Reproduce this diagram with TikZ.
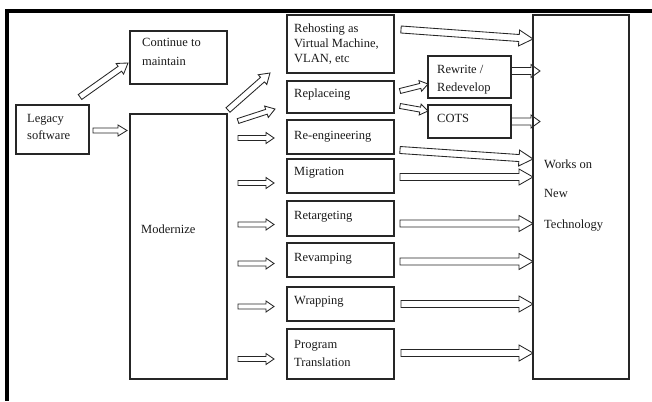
\documentclass[tikz,border=0pt]{standalone}
\usepackage{fontspec}
\setmainfont{Liberation Serif}
\usetikzlibrary{calc}
\pgfdeclarelayer{back}
\pgfdeclarelayer{bg}
\pgfsetlayers{back,bg,main}
\newcommand\lns[1]{\begin{tabular}[t]{@{}l@{}}#1\end{tabular}}
% block arrow: start, end, shaft half width, head half width, head length
\newcommand\blk[5]{%
  \coordinate (bs) at (#1);
  \coordinate (be) at (#2);
  \coordinate (hb) at ($(be)!#5pt!(bs)$);
  \draw[barrow] ($(bs)!#3pt!90:(be)$) -- ($(hb)!#3pt!90:(be)$) -- ($(hb)!#4pt!90:(be)$)
     -- (be) -- ($(hb)!#4pt!-90:(be)$) -- ($(hb)!#3pt!-90:(be)$) -- ($(bs)!#3pt!-90:(be)$) -- cycle;}
\begin{document}
\begin{tikzpicture}[x=1pt,y=-1pt,
  box/.style={draw=black!85, line width=1.1pt, inner sep=0pt, outer sep=0pt, anchor=north west},
  txt/.style={anchor=base west, inner sep=0pt, font=\fontsize{12.5}{15}\selectfont, text=black!90},
  barrow/.style={draw=black!85, line width=0.85pt, fill=white, line join=miter}]
\begin{pgfonlayer}{back}
\fill[white] (0,0) rectangle (652,401);
\end{pgfonlayer}
\useasboundingbox (0,0) rectangle (652,401);
% frame
\draw[line width=4pt] (5,11) -- (652,11);
\draw[line width=4pt] (7,9) -- (7,401);
% boxes
\node[box, minimum width=73pt, minimum height=49pt] (legacy) at (16,105) {};
\node[box, minimum width=97pt, minimum height=53pt] (cont) at (130,31) {};
\node[box, minimum width=97pt, minimum height=265pt] (modern) at (130,114) {};
\node[box, minimum width=107pt, minimum height=58pt] (rehost) at (287,15) {};
\node[box, minimum width=107pt, minimum height=32pt] (replace) at (287,81) {};
\node[box, minimum width=107pt, minimum height=34pt] (reeng) at (287,120) {};
\node[box, minimum width=107pt, minimum height=34pt] (migr) at (287,159) {};
\node[box, minimum width=107pt, minimum height=35pt] (retarg) at (287,201) {};
\node[box, minimum width=107pt, minimum height=34pt] (revamp) at (287,243) {};
\node[box, minimum width=107pt, minimum height=34pt] (wrap) at (287,287) {};
\node[box, minimum width=107pt, minimum height=50pt] (prog) at (287,329) {};
\node[box, minimum width=83pt, minimum height=42pt] (rewrite) at (428,56) {};
\node[box, minimum width=83pt, minimum height=33pt] (cots) at (428,105) {};
\node[box, minimum width=96pt, minimum height=364pt] (works) at (533,15) {};
% texts
\node[txt] (legacyT) at ($(legacy.north west)+(11,17)$) {\lns{Legacy\\[2pt]software}};
\node[txt] (contT) at ($(cont.north west)+(12,16)$) {\lns{Continue to\\[4pt]maintain}};
\node[txt] (modernT) at ($(modern.north west)+(11,119)$) {Modernize};
\node[txt] (rehostT) at ($(rehost.north west)+(7,18)$) {\lns{Rehosting as\\Virtual Machine,\\VLAN, etc}};
\node[txt] (replaceT) at ($(replace.north west)+(7,16)$) {Replaceing};
\node[txt] (reengT) at ($(reeng.north west)+(7,19)$) {Re-engineering};
\node[txt] (migrT) at ($(migr.north west)+(7,16)$) {Migration};
\node[txt] (retargT) at ($(retarg.north west)+(7,18)$) {Retargeting};
\node[txt] (revampT) at ($(revamp.north west)+(7,18)$) {Revamping};
\node[txt] (wrapT) at ($(wrap.north west)+(7,17)$) {Wrapping};
\node[txt] (progT) at ($(prog.north west)+(7,19)$) {\lns{Program\\[3pt]Translation}};
\node[txt] (rewriteT) at ($(rewrite.north west)+(9,18)$) {\lns{Rewrite /\\[3pt]Redevelop}};
\node[txt] (cotsT) at ($(cots.north west)+(9,17)$) {COTS};
\node[txt] (worksT) at ($(works.north west)+(11,153)$) {\lns{Works on\\[14pt]New\\[16pt]Technology}};
\begin{pgfonlayer}{bg}
% arrows from legacy
\blk{$(legacy.north east)+(-9,-8)$}{$(cont.west)+(-2,5.5)$}{3}{6.5}{10}
\blk{$(legacy.east)+(4,1)$}{$(legacy.east -| modern.west)+(-3,1)$}{2.5}{5.5}{9}
% arrows from modernize
\blk{$(modern.north east)+(1,-4)$}{$(rehost.south west)+(-17,0)$}{3}{6.5}{10}
\blk{$(modern.north east)+(11,7)$}{$(replace.west)+(-12,12)$}{2.5}{6}{9}
\blk{$(modern.east |- reeng.west)+(11,1)$}{$(reeng.west)+(-13,1)$}{2.5}{5.5}{8}
\blk{$(modern.east |- migr.west)+(11,7)$}{$(migr.west)+(-13,7)$}{2.5}{5.5}{8}
\blk{$(modern.east |- retarg.west)+(11,6)$}{$(retarg.west)+(-13,6)$}{2.5}{5.5}{8}
\blk{$(modern.east |- revamp.west)+(11,3.5)$}{$(revamp.west)+(-13,3.5)$}{2.5}{5.5}{8}
\blk{$(modern.east |- wrap.west)+(11,2.5)$}{$(wrap.west)+(-13,2.5)$}{2.5}{5.5}{8}
\blk{$(modern.east |- prog.west)+(11,5)$}{$(prog.west)+(-13,5)$}{2.5}{5.5}{8}
% replace to rewrite / cots
\blk{$(replace.east)+(6,-6)$}{$(rewrite.west)+(0,7)$}{2.5}{5.5}{8}
\blk{$(replace.east)+(6,9)$}{$(cots.west)+(0,-10.5)$}{2.5}{5.5}{8}
% to works
\blk{$(rehost.north east)+(7,14.5)$}{$(rehost.north east -| works.west)+(0,24)$}{3.5}{8}{14}
\blk{$(rewrite.east)+(0,-6)$}{$(rewrite.east -| works.west)+(7,-6)$}{3.5}{6.5}{9}
\blk{$(cots.east)+(0,0)$}{$(cots.east -| works.west)+(7,0)$}{3.5}{6.5}{9}
\blk{$(reeng.east)+(6,13)$}{$(reeng.east -| works.west)+(0,22)$}{3.5}{8}{14}
\blk{$(migr.east)+(6,1)$}{$(migr.east -| works.west)+(0,1)$}{3.5}{8}{14}
\blk{$(retarg.east)+(6,5)$}{$(retarg.east -| works.west)+(0,5)$}{3.5}{8}{14}
\blk{$(revamp.east)+(6,1.5)$}{$(revamp.east -| works.west)+(0,1.5)$}{3.5}{8}{14}
\blk{$(wrap.east)+(7,0)$}{$(wrap.east -| works.west)+(0,0)$}{3.5}{8}{14}
\blk{$(prog.east)+(7,-1)$}{$(prog.east -| works.west)+(0,-1)$}{3.5}{8}{14}
\end{pgfonlayer}
\end{tikzpicture}
\end{document}
